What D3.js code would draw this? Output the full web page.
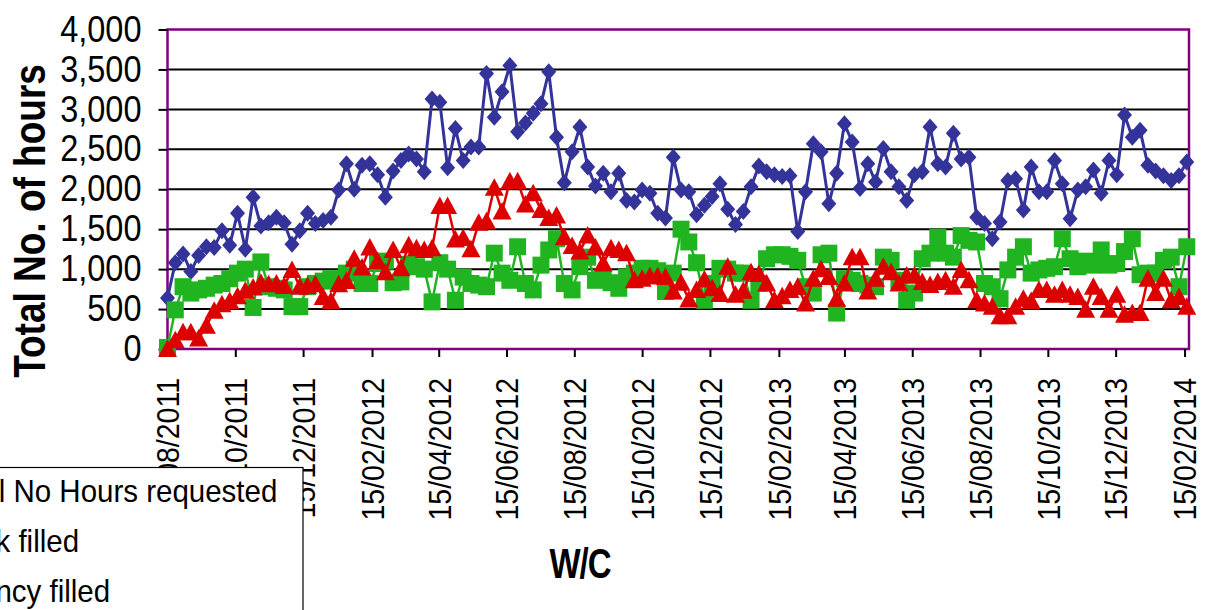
<!DOCTYPE html>
<html>
<head>
<meta charset="utf-8">
<script src="https://cdn.jsdelivr.net/npm/d3@7/dist/d3.min.js"></script>
<style>
  html, body { margin: 0; padding: 0; background: #fff; }
  svg { display: block; font-family: "Liberation Sans", Arial, sans-serif; }
</style>
</head>
<body>
<svg id="chart" width="1207" height="610"></svg>
<script>
// Weekly hours: total requested, filled by bank staff, filled by agency staff
const firstWeekCommencing = "15/08/2011";

const hoursRequested = [
  640, 1080, 1190, 970, 1170, 1280, 1270, 1480, 1300, 1700,
  1250, 1900, 1540, 1580, 1650, 1580, 1310, 1480, 1700, 1570,
  1610, 1650, 1990, 2320, 2000, 2300, 2320, 2180, 1900, 2230,
  2360, 2440, 2380, 2220, 3130, 3090, 2270, 2760, 2360, 2530,
  2530, 3450, 2900, 3220, 3550, 2720, 2830, 2950, 3070, 3470,
  2650, 2080, 2470, 2780, 2280, 2040, 2200, 1970, 2200, 1860,
  1840, 1990, 1950, 1700, 1640, 2400, 1990, 1970, 1680, 1800,
  1910, 2070, 1750, 1560, 1720, 2030, 2290, 2220, 2180, 2160,
  2170, 1470, 1970, 2570, 2470, 1820, 2200, 2820, 2590, 2010,
  2320, 2090, 2510, 2220, 2030, 1860, 2180, 2220, 2780, 2320,
  2280, 2700, 2380, 2400, 1650, 1570, 1380, 1590, 2110, 2130,
  1740, 2280, 1970, 1970, 2360, 2070, 1630, 1990, 2030, 2240,
  1950, 2360, 2180, 2930, 2650, 2740, 2300, 2230, 2170, 2110,
  2170, 2340
];

const bankFilled = [
  20, 490, 780, 700, 740, 760, 800, 820, 880, 950,
  1000, 520, 1090, 780, 760, 740, 530, 530, 780, 820,
  850, 880, 850, 950, 1000, 820, 820, 1070, 1100, 830,
  840, 1060, 1030, 1000, 590, 1080, 1000, 610, 900, 820,
  800, 780, 1200, 950, 860, 1280, 820, 740, 1050, 1240,
  1380, 820, 740, 1030, 1150, 860, 900, 830, 760, 900,
  950, 1010, 1010, 980, 720, 950, 1500, 1340, 1080, 610,
  820, 1010, 1000, 950, 950, 610, 820, 1130, 1180, 1180,
  1160, 1110, 780, 700, 1180, 1200, 450, 880, 860, 820,
  800, 780, 1150, 1110, 860, 610, 700, 1130, 1200, 1400,
  1200, 1150, 1420, 1360, 1340, 820, 780, 630, 990, 1150,
  1280, 950, 990, 1010, 1030, 1380, 1130, 1030, 1100, 1050,
  1240, 1050, 1070, 1220, 1380, 930, 950, 950, 1110, 1150,
  780, 1280
];

const agencyFilled = [
  0, 110, 210, 210, 130, 290, 480, 560, 600, 660,
  730, 770, 830, 810, 820, 790, 990, 780, 790, 810,
  650, 600, 810, 850, 1130, 1020, 1270, 1100, 960, 1240,
  1010, 1300, 1260, 1240, 1260, 1790, 1790, 1370, 1390, 1250,
  1580, 1600, 2020, 1720, 2100, 2100, 1810, 1950, 1740, 1640,
  1670, 1400, 1290, 1220, 1420, 1270, 1070, 1260, 1240, 1200,
  860, 880, 910, 910, 900, 720, 830, 620, 740, 870,
  760, 690, 1030, 680, 730, 960, 940, 820, 610, 660,
  740, 780, 570, 880, 1000, 900, 630, 820, 1150, 1150,
  720, 880, 1030, 960, 820, 920, 920, 840, 800, 840,
  860, 780, 990, 860, 610, 570, 530, 410, 410, 530,
  630, 600, 740, 740, 680, 740, 680, 650, 490, 780,
  650, 490, 680, 430, 450, 450, 880, 700, 880, 610,
  650, 530
];

const xTickLabels = [
  "15/08/2011", "15/10/2011", "15/12/2011", "15/02/2012", "15/04/2012",
  "15/06/2012", "15/08/2012", "15/10/2012", "15/12/2012", "15/02/2013",
  "15/04/2013", "15/06/2013", "15/08/2013", "15/10/2013", "15/12/2013",
  "15/02/2014"
];
const yTickValues = [0, 500, 1000, 1500, 2000, 2500, 3000, 3500, 4000];
const axisMinDate = "15/08/2011";
const axisMaxDate = "19/02/2014";

const seriesNames = ["Total No Hours requested", "Bank filled", "Agency filled"];

const parseDate = d3.timeParse("%d/%m/%Y");
const firstWeek = parseDate(firstWeekCommencing);
const weeks = hoursRequested.map((_, i) => d3.timeDay.offset(firstWeek, 7 * i));

const plot = { left: 167.5, right: 1189, top: 29.5, bottom: 349 };
const fontFamily = "'Liberation Sans', Arial, sans-serif";
const svg = d3.select("#chart");

const x = d3.scaleTime()
  .domain([parseDate(axisMinDate), parseDate(axisMaxDate)])
  .range([plot.left, plot.right]);
const y = d3.scaleLinear().domain([0, 4000]).range([plot.bottom, plot.top]);

svg.append("rect").attr("width", 1207).attr("height", 610).attr("fill", "#fff");

// horizontal gridlines
svg.append("g")
  .selectAll("line")
  .data(yTickValues.filter(v => v > 0 && v < 4000))
  .join("line")
  .attr("x1", plot.left).attr("x2", plot.right)
  .attr("y1", d => y(d)).attr("y2", d => y(d))
  .attr("stroke", "#000").attr("stroke-width", 2);

// plot area frame
svg.append("rect")
  .attr("x", plot.left).attr("y", plot.top)
  .attr("width", plot.right - plot.left).attr("height", plot.bottom - plot.top)
  .attr("fill", "none").attr("stroke", "#800080").attr("stroke-width", 2.5);

// y axis (glyphs drawn slightly tall and narrow)
const yAxis = svg.append("g")
  .attr("transform", `translate(${plot.left},0)`)
  .call(d3.axisLeft(y).tickValues(yTickValues).tickFormat(d3.format(",")).tickSize(9).tickPadding(17));
yAxis.select(".domain").remove();
yAxis.selectAll(".tick line").attr("stroke", "#000").attr("stroke-width", 2);
yAxis.selectAll(".tick text")
  .attr("font-size", 32.5).attr("fill", "#000")
  .attr("font-family", fontFamily)
  .attr("transform", "scale(1,1.12)");

// x axis with rotated date labels
const xAxis = svg.append("g")
  .attr("transform", `translate(0,${plot.bottom})`)
  .call(d3.axisBottom(x).tickValues(xTickLabels.map(parseDate)).tickFormat(d3.timeFormat("%d/%m/%Y")).tickSize(8));
xAxis.select(".domain").remove();
xAxis.selectAll(".tick line").attr("stroke", "#000").attr("stroke-width", 2);
xAxis.selectAll(".tick text")
  .attr("transform", "rotate(-90) scale(1,1.1)")
  .attr("text-anchor", "end")
  .attr("x", -29).attr("y", 0).attr("dy", "0.36em")
  .attr("font-size", 28.5).attr("fill", "#000")
  .attr("font-family", fontFamily);

// axis titles
svg.append("text")
  .attr("transform", "translate(29,221) rotate(-90) scale(1,1.2)")
  .attr("text-anchor", "middle")
  .attr("dy", "0.36em")
  .attr("font-size", 37).attr("font-weight", "bold")
  .text("Total No. of hours");

svg.append("text")
  .attr("transform", "translate(580,578) scale(1,1.3)")
  .attr("text-anchor", "middle")
  .attr("font-size", 33).attr("font-weight", "bold")
  .attr("letter-spacing", -1)
  .text("W/C");

// marker shapes
const markerPath = {
  diamond: "M0,-8.5L7.5,0L0,8.5L-7.5,0Z",
  square: "M-8.5,-8.5H8.5V8.5H-8.5Z",
  triangle: "M0,-9.5L9.5,8L-9.5,8Z"
};

const series = [
  { name: seriesNames[0], values: hoursRequested, color: "#333399", marker: "diamond", width: 3 },
  { name: seriesNames[1], values: bankFilled, color: "#20b420", marker: "square", width: 2.5 },
  { name: seriesNames[2], values: agencyFilled, color: "#dd0000", marker: "triangle", width: 2.5 }
];

const line = d3.line().x((d, i) => x(weeks[i])).y(d => y(d));

series.forEach(s => {
  const g = svg.append("g");
  g.append("path")
    .attr("d", line(s.values))
    .attr("fill", "none")
    .attr("stroke", s.color)
    .attr("stroke-width", s.width)
    .attr("stroke-linejoin", "round");
  g.selectAll("path.mark")
    .data(s.values)
    .join("path")
    .attr("class", "mark")
    .attr("transform", (d, i) => `translate(${x(weeks[i])},${y(d)})`)
    .attr("d", markerPath[s.marker])
    .attr("fill", s.color);
});

// legend
const legend = svg.append("g");
legend.append("rect")
  .attr("x", -120).attr("y", 467.5)
  .attr("width", 423).attr("height", 200)
  .attr("fill", "#fff").attr("stroke", "#000").attr("stroke-width", 1.2);
series.forEach((s, i) => {
  const cy = 491 + 50 * i;
  legend.append("line")
    .attr("x1", -110).attr("x2", -68).attr("y1", cy).attr("y2", cy)
    .attr("stroke", s.color).attr("stroke-width", s.width);
  legend.append("path")
    .attr("transform", `translate(-89,${cy})`)
    .attr("d", markerPath[s.marker])
    .attr("fill", s.color);
  legend.append("text")
    .attr("transform", `translate(-57,${cy}) scale(1,1.04)`)
    .attr("dy", "0.35em")
    .attr("font-size", 29.5)
    .text(s.name);
});
</script>
</body>
</html>
